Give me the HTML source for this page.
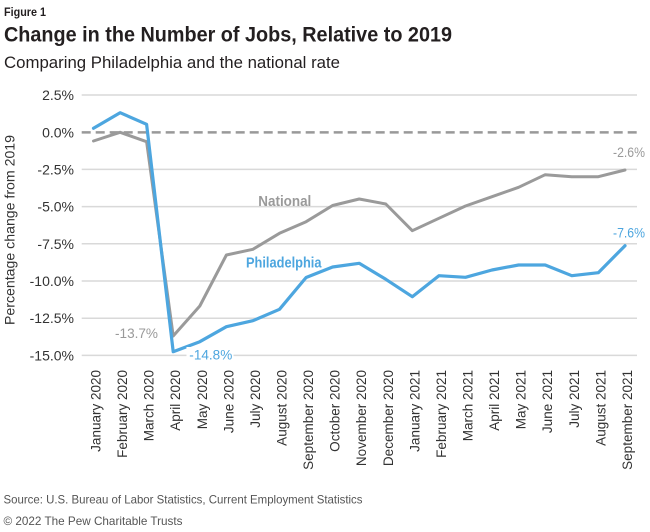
<!DOCTYPE html>
<html>
<head>
<meta charset="utf-8">
<style>
  html, body { margin: 0; padding: 0; background: #ffffff; }
  svg { display: block; }
  text { font-family: "Liberation Sans", sans-serif; }
</style>
</head>
<body>
<svg width="650" height="532" viewBox="0 0 650 532" xmlns="http://www.w3.org/2000/svg">
  <rect width="650" height="532" fill="#ffffff"/>

  <!-- Titles -->
  <text x="4" y="16" font-size="12" font-weight="bold" fill="#231f20" textLength="42" lengthAdjust="spacingAndGlyphs">Figure 1</text>
  <text x="4" y="41.7" font-size="21" font-weight="bold" fill="#231f20" textLength="448" lengthAdjust="spacingAndGlyphs">Change in the Number of Jobs, Relative to 2019</text>
  <text x="4" y="68" font-size="16.5" fill="#231f20" textLength="336" lengthAdjust="spacingAndGlyphs">Comparing Philadelphia and the national rate</text>

  <!-- Gridlines -->
  <g stroke="#d9d9d9" stroke-width="1.5">
    <line x1="81.7" y1="95" x2="637" y2="95"/>
    <line x1="81.7" y1="169.4" x2="637" y2="169.4"/>
    <line x1="81.7" y1="206.6" x2="637" y2="206.6"/>
    <line x1="81.7" y1="243.8" x2="637" y2="243.8"/>
    <line x1="81.7" y1="281" x2="637" y2="281"/>
    <line x1="81.7" y1="318.2" x2="637" y2="318.2"/>
    <line x1="81.7" y1="355.4" x2="637" y2="355.4"/>
  </g>
  <line x1="81.7" y1="132.4" x2="637" y2="132.4" stroke="#999999" stroke-width="2.5" stroke-dasharray="9 5"/>

  <!-- Y axis labels -->
  <g font-size="14" fill="#333333" text-anchor="end">
    <text x="74" y="100">2.5%</text>
    <text x="74" y="137.4">0.0%</text>
    <text x="74" y="174.4">-2.5%</text>
    <text x="74" y="211.6">-5.0%</text>
    <text x="74" y="248.8">-7.5%</text>
    <text x="74" y="286">-10.0%</text>
    <text x="74" y="323.2">-12.5%</text>
    <text x="74" y="360.4">-15.0%</text>
  </g>

  <!-- Y axis title -->
  <text transform="translate(14.5,230) rotate(-90)" text-anchor="middle" font-size="14" fill="#333333" textLength="190" lengthAdjust="spacingAndGlyphs">Percentage change from 2019</text>

  <!-- X axis labels -->
  <g font-size="13.5" fill="#333333" text-anchor="end">
    <text transform="translate(100.5,370) rotate(-90)">January 2020</text>
    <text transform="translate(127.1,370) rotate(-90)">February 2020</text>
    <text transform="translate(153.6,370) rotate(-90)">March 2020</text>
    <text transform="translate(180.2,370) rotate(-90)">April 2020</text>
    <text transform="translate(206.8,370) rotate(-90)">May 2020</text>
    <text transform="translate(233.4,370) rotate(-90)">June 2020</text>
    <text transform="translate(259.9,370) rotate(-90)">July 2020</text>
    <text transform="translate(286.5,370) rotate(-90)">August 2020</text>
    <text transform="translate(313.1,370) rotate(-90)">September 2020</text>
    <text transform="translate(339.6,370) rotate(-90)">October 2020</text>
    <text transform="translate(366.2,370) rotate(-90)">November 2020</text>
    <text transform="translate(392.8,370) rotate(-90)">December 2020</text>
    <text transform="translate(419.3,370) rotate(-90)">January 2021</text>
    <text transform="translate(445.9,370) rotate(-90)">February 2021</text>
    <text transform="translate(472.5,370) rotate(-90)">March 2021</text>
    <text transform="translate(499,370) rotate(-90)">April 2021</text>
    <text transform="translate(525.6,370) rotate(-90)">May 2021</text>
    <text transform="translate(552.2,370) rotate(-90)">June 2021</text>
    <text transform="translate(578.8,370) rotate(-90)">July 2021</text>
    <text transform="translate(605.3,370) rotate(-90)">August 2021</text>
    <text transform="translate(632,370) rotate(-90)">September 2021</text>
  </g>

  <!-- National series -->
  <polyline fill="none" stroke="#9a9a9a" stroke-width="3" stroke-linejoin="round" stroke-linecap="round"
    points="93.5,141 120.1,132.3 146.6,141.7 173.2,336 199.8,306 226.4,255 252.9,249.3 279.5,233.3 306.1,221.7 332.6,205.5 359.2,199 385.8,204 412.3,230.7 438.9,218.3 465.5,206 492,196.7 518.6,187.3 545.2,174.7 571.8,176.7 598.3,176.7 625,170"/>

  <!-- Philadelphia series -->
  <polyline fill="none" stroke="#4da6df" stroke-width="3.2" stroke-linejoin="round" stroke-linecap="round"
    points="93.5,128.3 120.1,112.7 146.6,124.3 173.2,351.7 199.8,341.7 226.4,326.7 252.9,320.7 279.5,309.3 306.1,277.5 332.6,267 359.2,263.3 385.8,279.3 412.3,296.7 438.9,275.7 465.5,277.3 492,270 518.6,265 545.2,265 571.8,275.7 598.3,272.7 625,245.7"/>

  <!-- Annotations -->
  <text x="258.3" y="206" font-size="14.5" font-weight="bold" fill="#9a9a9a" textLength="53" lengthAdjust="spacingAndGlyphs">National</text>
  <text x="246" y="267.5" font-size="14.5" font-weight="bold" fill="#4da6df" textLength="75.5" lengthAdjust="spacingAndGlyphs">Philadelphia</text>
  <text x="115" y="338" font-size="14" fill="#9a9a9a" textLength="43" lengthAdjust="spacingAndGlyphs">-13.7%</text>
  <rect x="186.5" y="347" width="47" height="15" fill="#ffffff"/>
  <text x="189.3" y="359.5" font-size="14" fill="#4da6df" textLength="43" lengthAdjust="spacingAndGlyphs">-14.8%</text>
  <text x="613" y="157" font-size="14" fill="#9a9a9a" textLength="32" lengthAdjust="spacingAndGlyphs">-2.6%</text>
  <text x="613" y="237.5" font-size="14" fill="#4da6df" textLength="32" lengthAdjust="spacingAndGlyphs">-7.6%</text>

  <!-- Footer -->
  <text x="3.5" y="503.3" font-size="12" fill="#555555" textLength="359" lengthAdjust="spacingAndGlyphs">Source: U.S. Bureau of Labor Statistics, Current Employment Statistics</text>
  <text x="3.5" y="525" font-size="12" fill="#555555" textLength="179" lengthAdjust="spacingAndGlyphs">© 2022 The Pew Charitable Trusts</text>
</svg>
</body>
</html>
